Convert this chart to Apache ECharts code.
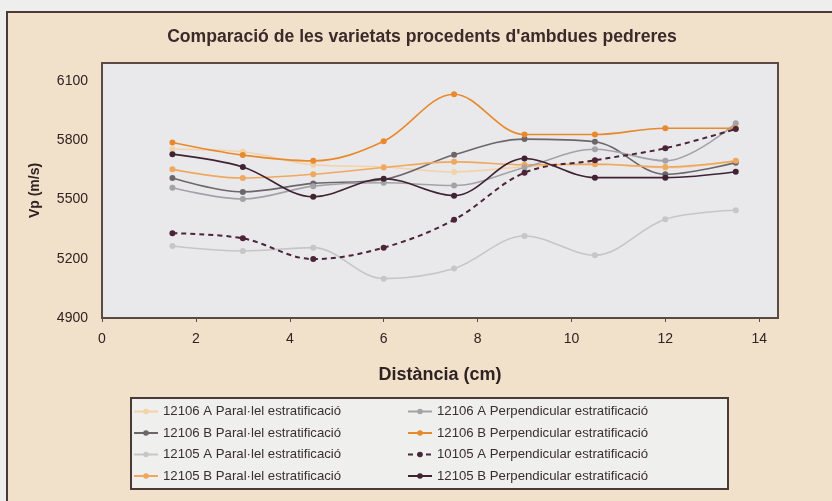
<!DOCTYPE html>
<html>
<head>
<meta charset="utf-8">
<script src="https://cdn.jsdelivr.net/npm/echarts@6/dist/echarts.min.js"></script>
<style>
html,body{margin:0;padding:0;background:#eeeeec;}
#c{width:832px;height:501px;}
</style>
</head>
<body>
<div id="c"></div>
<script>
var xValues = [1.5, 3, 4.5, 6, 7.5, 9, 10.5, 12, 13.5];
var xTicks = [0, 2, 4, 6, 8, 10, 12, 14];
var yTicks = [4900, 5200, 5500, 5800, 6100];

var names = [
  "12106 A Paral·lel estratificació",
  "12106 B Paral·lel estratificació",
  "12105 A Paral·lel estratificació",
  "12105 B Paral·lel estratificació",
  "12106 A Perpendicular estratificació",
  "12106 B Perpendicular estratificació",
  "10105 A Perpendicular estratificació",
  "12105 B Perpendicular estratificació"
];

var s12106AParal = [5754, 5741, 5675, 5664, 5639, 5665, 5680, 5660, 5695];
var s12106BParal = [5608, 5538, 5581, 5601, 5726, 5805, 5792, 5627, 5686];
var s12105AParal = [5264, 5239, 5256, 5099, 5150, 5315, 5218, 5400, 5445];
var s12105BParal = [5652, 5608, 5627, 5661, 5690, 5675, 5678, 5664, 5695];
var s12106APerp  = [5559, 5502, 5567, 5584, 5570, 5661, 5754, 5695, 5885];
var s12106BPerp  = [5788, 5724, 5695, 5794, 6032, 5828, 5828, 5860, 5860];
var s10105APerp  = [5329, 5303, 5198, 5256, 5397, 5635, 5698, 5759, 5856];
var s12105BPerp  = [5729, 5664, 5513, 5605, 5519, 5707, 5610, 5610, 5640];

var seriesValues = [s12106AParal, s12106BParal, s12105AParal, s12105BParal,
                    s12106APerp, s12106BPerp, s10105APerp, s12105BPerp];
var colors = ["#f2d2a8", "#6c666b", "#c6c6c8", "#f0a85e",
              "#a3a3a7", "#e8892c", "#4b2439", "#3f2233"];
var dashed = [false, false, false, false, false, false, true, false];

function pairs(vals){ return xValues.map(function(x,i){ return [x, vals[i]]; }); }

var series = seriesValues.map(function(vals, i){
  return {
    name: names[i],
    type: 'line',
    data: pairs(vals),
    smooth: 0.35,
    symbol: 'circle',
    symbolSize: 6,
    itemStyle: {color: colors[i]},
    lineStyle: {color: colors[i], width: dashed[i] ? 2 : 1.6, type: dashed[i] ? [5,4] : 'solid'},
    z: 10 - (i === 2 ? 5 : 0)
  };
});

var chart = echarts.init(document.getElementById('c'), null, {renderer: 'canvas'});
var font = 'Liberation Sans, Arial, sans-serif';
var legendText = {fontFamily: font, fontSize: 13.2, color: '#3a2e2e'};
chart.setOption({
  backgroundColor: '#eeeeec',
  animation: false,
  graphic: [
    {type: 'rect', z: -10, shape: {x: 7, y: 12, width: 840, height: 510},
     style: {fill: '#f2e1ca', stroke: '#4a3a37', lineWidth: 2}},
    {type: 'rect', z: -5, shape: {x: 131, y: 398, width: 597, height: 91},
     style: {fill: '#efefed', stroke: '#4a3a37', lineWidth: 2}}
  ],
  title: {
    text: "Comparació de les varietats procedents d'ambdues pedreres",
    left: 417, top: 23, textAlign: 'center',
    textStyle: {fontFamily: font, fontSize: 17.6, fontWeight: 'bold', color: '#3a2a2a'}
  },
  grid: {left: 102, top: 63, width: 676, height: 255, show: true,
         backgroundColor: '#e9e9eb', borderColor: '#5a4a46', borderWidth: 2},
  xAxis: {
    type: 'value', min: 0, max: 14.4, interval: 2,
    name: 'Distància (cm)', nameLocation: 'middle', nameGap: 48,
    nameTextStyle: {fontFamily: font, fontSize: 18, fontWeight: 'bold', color: '#2e2222'},
    axisLine: {show: true, lineStyle: {color: '#5a4a46', width: 2}},
    axisTick: {show: true, length: 4, lineStyle: {color: '#5a4a46'}},
    axisLabel: {showMaxLabel: false, margin: 14, fontFamily: font, fontSize: 14, color: '#2e2222',
      formatter: function(v){ return xTicks.indexOf(v) >= 0 ? String(v) : ''; }},
    splitLine: {show: false}
  },
  yAxis: {
    type: 'value', min: 4900, max: 6190, interval: 300,
    name: 'Vp (m/s)', nameLocation: 'middle', nameGap: 60, nameRotate: 90,
    nameTextStyle: {fontFamily: font, fontSize: 14, fontWeight: 'bold', color: '#2e2222'},
    axisLine: {show: true, lineStyle: {color: '#5a4a46', width: 2}},
    axisTick: {show: false},
    axisLabel: {showMaxLabel: false, margin: 14, fontFamily: font, fontSize: 14, color: '#2e2222',
      formatter: function(v){ return yTicks.indexOf(v) >= 0 ? String(v) : ''; }},
    splitLine: {show: false}
  },
  legend: [
    {data: names.slice(0,4), orient: 'vertical', left: 128, top: 400, itemGap: 8.5,
     itemWidth: 24, itemHeight: 7, textStyle: legendText},
    {data: names.slice(4), orient: 'vertical', left: 402, top: 400, itemGap: 8.5,
     itemWidth: 24, itemHeight: 7, textStyle: legendText}
  ],
  series: series
});
</script>
</body>
</html>
